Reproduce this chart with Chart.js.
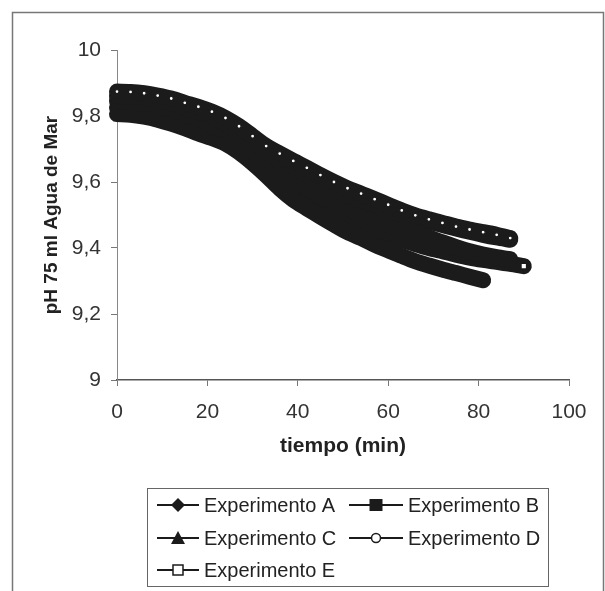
<!DOCTYPE html>
<html>
<head>
<meta charset="utf-8">
<script src="https://cdn.jsdelivr.net/npm/chart.js@4.4.1/dist/chart.umd.min.js"></script>
<style>
  html, body { margin: 0; padding: 0; background: #fff; }
  canvas { display: block; }
</style>
</head>
<body>
<canvas id="phChart" width="605" height="591"></canvas>
<script>
// --- data (pH vs tiempo, every 3 min) ---
const tiempo = [0, 3, 6, 9, 12, 15, 18, 21, 24, 27, 30, 33, 36, 39, 42, 45,
  48, 51, 54, 57, 60, 63, 66, 69, 72, 75, 78, 81, 84, 87, 90];

const expA = [9.806, 9.804, 9.798, 9.789, 9.777, 9.763, 9.747, 9.733, 9.716, 9.69,
  9.657, 9.62, 9.58, 9.546, 9.52, 9.495, 9.471, 9.448, 9.43, 9.41,
  9.393, 9.376, 9.36, 9.347, 9.335, 9.324, 9.313, 9.302];
const expB = [9.845, 9.843, 9.838, 9.83, 9.82, 9.806, 9.791, 9.773, 9.751, 9.724,
  9.693, 9.66, 9.632, 9.605, 9.58, 9.558, 9.538, 9.52, 9.503, 9.486,
  9.47, 9.458, 9.446, 9.432, 9.417, 9.403, 9.39, 9.38, 9.372, 9.366];
const expC = [9.86, 9.859, 9.855, 9.848, 9.839, 9.826, 9.813, 9.797, 9.776, 9.751,
  9.721, 9.69, 9.665, 9.645, 9.623, 9.601, 9.58, 9.56, 9.545, 9.53,
  9.515, 9.502, 9.49, 9.48, 9.47, 9.459, 9.449, 9.44, 9.432, 9.425];
const expD = [9.874, 9.873, 9.869, 9.862, 9.853, 9.84, 9.828, 9.813, 9.794, 9.769,
  9.739, 9.709, 9.686, 9.664, 9.643, 9.621, 9.60, 9.581, 9.565, 9.548,
  9.531, 9.514, 9.499, 9.487, 9.476, 9.465, 9.456, 9.448, 9.44, 9.43];
const expE = [9.825, 9.823, 9.817, 9.809, 9.798, 9.784, 9.768, 9.749, 9.726, 9.698,
  9.666, 9.632, 9.598, 9.565, 9.54, 9.517, 9.497, 9.48, 9.465, 9.452,
  9.44, 9.425, 9.412, 9.40, 9.39, 9.38, 9.371, 9.364, 9.358, 9.352, 9.345];

const serieNames = ["Experimento A", "Experimento B", "Experimento C", "Experimento D", "Experimento E"];
const xTickLabels = ["0", "20", "40", "60", "80", "100"];
const yTickLabels = ["9", "9,2", "9,4", "9,6", "9,8", "10"];

const INK = "#1b1b1b";
const FONT = "'Liberation Sans', Arial, sans-serif";

function toPoints(values) {
  return values.map((v, i) => ({ x: tiempo[i], y: v }));
}

// marker used in the legend (Excel style line + symbol)
function drawMarker(ctx, style, x, y) {
  ctx.beginPath();
  ctx.fillStyle = INK;
  ctx.strokeStyle = INK;
  ctx.lineWidth = 1.5;
  if (style === "rectRot") {
    ctx.moveTo(x, y - 7); ctx.lineTo(x + 7, y); ctx.lineTo(x, y + 7); ctx.lineTo(x - 7, y);
    ctx.closePath(); ctx.fill();
  } else if (style === "rect") {
    ctx.rect(x - 6.5, y - 6, 13, 12); ctx.fill();
  } else if (style === "triangle") {
    ctx.moveTo(x, y - 7); ctx.lineTo(x + 7, y + 6); ctx.lineTo(x - 7, y + 6);
    ctx.closePath(); ctx.fill();
  } else if (style === "circle") {
    ctx.arc(x, y, 4.5, 0, Math.PI * 2);
    ctx.fillStyle = "#fff"; ctx.fill(); ctx.stroke();
  } else {
    ctx.rect(x - 5, y - 5, 10, 10);
    ctx.fillStyle = "#fff"; ctx.fill(); ctx.stroke();
  }
}

const legendStyles = ["rectRot", "rect", "triangle", "circle", "rectHollow"];

const excelFrame = {
  id: "excelFrame",
  afterDraw(chart) {
    const ctx = chart.ctx;
    ctx.save();
    // outer chart border
    ctx.strokeStyle = "#777";
    ctx.lineWidth = 1.5;
    ctx.strokeRect(12.5, 12.5, 591, 600);

    // legend box
    ctx.lineWidth = 1;
    ctx.strokeStyle = "#666";
    ctx.strokeRect(147.5, 488.5, 401, 98);

    const cols = [{ x0: 157, x1: 199, tx: 204 }, { x0: 349, x1: 403, tx: 408 }];
    const rows = [505, 538, 570];
    ctx.font = "20px " + FONT;
    ctx.textBaseline = "middle";
    serieNames.forEach((name, i) => {
      const c = cols[i % 2];
      const y = rows[Math.floor(i / 2)];
      ctx.beginPath();
      ctx.strokeStyle = INK;
      ctx.lineWidth = 2;
      ctx.moveTo(c.x0, y);
      ctx.lineTo(c.x1, y);
      ctx.stroke();
      drawMarker(ctx, legendStyles[i], (c.x0 + c.x1) / 2, y);
      ctx.fillStyle = "#222";
      ctx.fillText(name, c.tx, y + 1);
    });
    ctx.restore();
  }
};

function lastOnly(radius) {
  return (c) => (c.dataIndex === c.dataset.data.length - 1 ? radius : 0);
}

const baseSet = {
  borderColor: INK,
  backgroundColor: INK,
  borderWidth: 16,
  borderCapStyle: "round",
  borderJoinStyle: "round",
  tension: 0.3,
  showLine: true,
  clip: false,
  pointRadius: 0,
  pointBorderColor: INK
};

new Chart(document.getElementById("phChart"), {
  type: "scatter",
  data: {
    datasets: [
      { ...baseSet, label: serieNames[0], data: toPoints(expA), order: 4 },
      { ...baseSet, label: serieNames[1], data: toPoints(expB), order: 3 },
      { ...baseSet, label: serieNames[2], data: toPoints(expC), order: 2 },
      {
        ...baseSet, label: serieNames[3], data: toPoints(expD), order: 1,
        pointStyle: "circle", pointRadius: 2, pointBackgroundColor: "#fff", pointBorderWidth: 1.2
      },
      {
        ...baseSet, label: serieNames[4], data: toPoints(expE), order: 5,
        pointStyle: "rect", pointRadius: lastOnly(4), pointBackgroundColor: "#fff", pointBorderWidth: 1.5
      }
    ]
  },
  options: {
    responsive: false,
    animation: false,
    layout: { padding: { top: 50, right: 36, bottom: 131, left: 0 } },
    plugins: {
      legend: { display: false },
      tooltip: { enabled: false }
    },
    scales: {
      x: {
        type: "linear",
        min: 0,
        max: 100,
        afterFit: (scale) => { scale.height = 80; },
        ticks: {
          stepSize: 20,
          padding: 14,
          color: "#333",
          font: { family: FONT, size: 21 },
          callback: (v, i) => xTickLabels[i]
        },
        grid: { drawOnChartArea: false, tickLength: 6, color: "#777" },
        border: { color: "#555", width: 1.5 },
        title: {
          display: true,
          text: "tiempo (min)",
          color: "#222",
          font: { family: FONT, size: 21, weight: "bold" },
          padding: { top: 0, bottom: 1 }
        }
      },
      y: {
        min: 9,
        max: 10,
        afterFit: (scale) => { scale.width = 117; },
        ticks: {
          stepSize: 0.2,
          padding: 10,
          color: "#333",
          font: { family: FONT, size: 21 },
          callback: (v, i) => yTickLabels[i]
        },
        grid: { drawOnChartArea: false, tickLength: 6, color: "#777" },
        border: { color: "#888", width: 1 },
        title: {
          display: true,
          text: "pH 75 ml Agua de Mar",
          color: "#222",
          font: { family: FONT, size: 19, weight: "bold" },
          padding: { top: 40, bottom: 0 }
        }
      }
    }
  },
  plugins: [excelFrame]
});
</script>
</body>
</html>
